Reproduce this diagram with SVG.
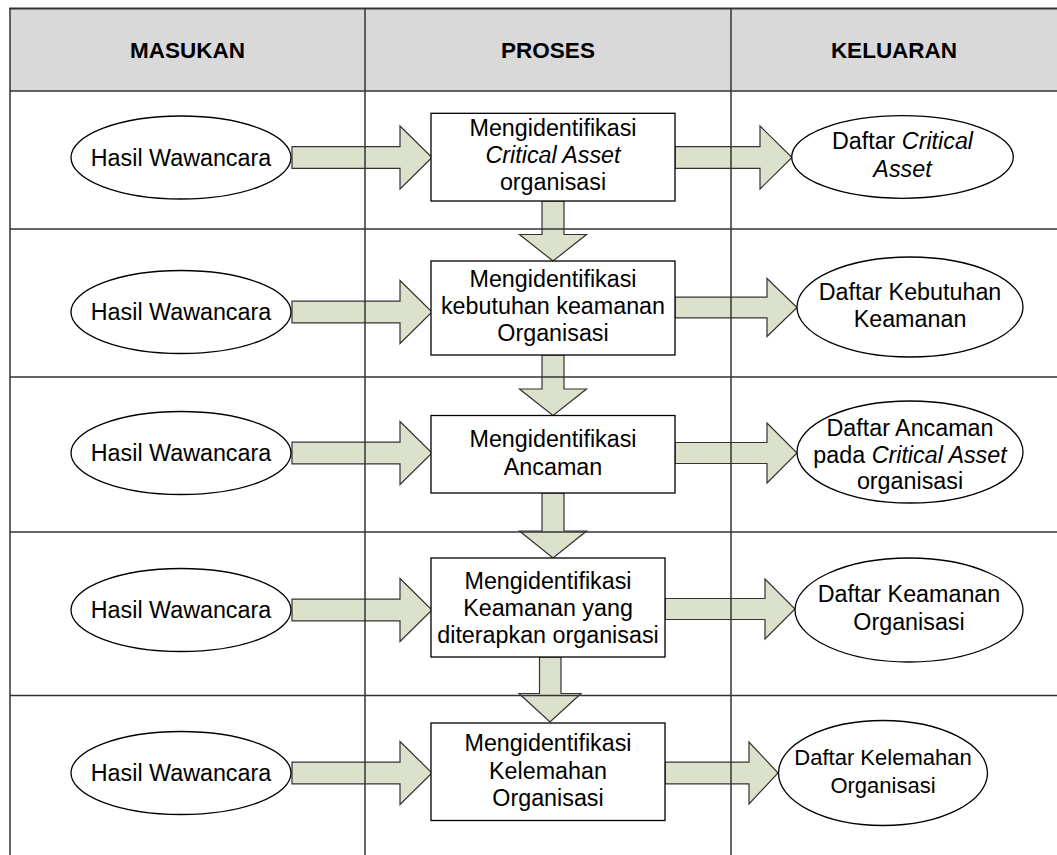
<svg xmlns="http://www.w3.org/2000/svg" width="1057" height="855" viewBox="0 0 1057 855">
  <defs>
    <style>
      .hdr { fill: #d9d9d9; }
      .grid { stroke: #333; stroke-width: 1.5; fill: none; }
      .arrow { fill: #dce1cb; stroke: #333; stroke-width: 1.2; stroke-linejoin: miter; }
      .box { fill: #fff; stroke: #000; stroke-width: 1.3; }
      .oval { fill: #fff; stroke: #000; stroke-width: 1.3; }
      text { font-family: "Liberation Sans", Arial, sans-serif; font-size: 23.3px; fill: #000; text-anchor: middle; }
      .th { font-weight: bold; font-size: 22.5px; }
      .it { font-style: italic; }
      .sm { font-size: 22px; }
    </style>
  </defs>
  <rect width="1057" height="855" fill="#fff"/>

  <!-- header band -->
  <rect class="hdr" x="10" y="8.5" width="1047" height="82.5"/>

  <!-- block arrows -->
  <g id="connectors">
    <!-- inputs to processes -->
    <path class="arrow" d="M292 146.7H400V126L432 157.5L400 189V168.3H292Z"/>
    <path class="arrow" d="M292 301.2H400V280.5L432 312L400 343.5V322.8H292Z"/>
    <path class="arrow" d="M292 442.2H400V421.5L432 453L400 484.5V463.8H292Z"/>
    <path class="arrow" d="M292 599.2H400V578.5L432 610L400 641.5V620.8H292Z"/>
    <path class="arrow" d="M292 762.2H400V741.5L432 773L400 804.5V783.8H292Z"/>
    <!-- processes to outputs -->
    <path class="arrow" d="M675 146.7H760V126L792 157.5L760 189V168.3H675Z"/>
    <path class="arrow" d="M675 297.2H767V278.5L797 307.5L767 336.5V317.8H675Z"/>
    <path class="arrow" d="M675 442.5H767V423L797 453L767 483V463.5H675Z"/>
    <path class="arrow" d="M665 598.5H765V579L795 609L765 639V619.5H665Z"/>
    <path class="arrow" d="M665 762.2H749V742L778 773L749 804V783.8H665Z"/>
    <!-- process chain -->
    <path class="arrow" d="M542 201H564V234.5H586.5L553 261L519.5 234.5H542Z"/>
    <path class="arrow" d="M542 355H564V389H586.5L553 415.5L519.5 389H542Z"/>
    <path class="arrow" d="M542 493H564V531H586.5L553 558L519.5 531H542Z"/>
    <path class="arrow" d="M539.5 657H561V693.5H581L550 722L519 693.5H539.5Z"/>
  </g>

  <!-- table rules -->
  <g id="table" class="grid">
    <line x1="9.2" y1="8.5" x2="1057" y2="8.5" stroke-width="2.2"/>
    <line x1="10" y1="8" x2="10" y2="855"/>
    <line x1="365" y1="8" x2="365" y2="855"/>
    <line x1="731" y1="8" x2="731" y2="855"/>
    <line x1="10" y1="91" x2="1057" y2="91"/>
    <line x1="10" y1="229" x2="1057" y2="229"/>
    <line x1="10" y1="377" x2="1057" y2="377"/>
    <line x1="10" y1="532" x2="1057" y2="532"/>
    <line x1="10" y1="695.5" x2="1057" y2="695.5"/>
  </g>

  <g id="col-headers">
    <text class="th" x="187.5" y="57.5">MASUKAN</text>
    <text class="th" x="548" y="57.5">PROSES</text>
    <text class="th" x="894" y="57.5">KELUARAN</text>
  </g>

  <!-- inputs -->
  <g id="in1"><ellipse class="oval" cx="181" cy="157.5" rx="110" ry="41.5"/><text x="181" y="165.5">Hasil Wawancara</text></g>
  <g id="in2"><ellipse class="oval" cx="181" cy="312" rx="110" ry="41.5"/><text x="181" y="320">Hasil Wawancara</text></g>
  <g id="in3"><ellipse class="oval" cx="181" cy="453" rx="110" ry="41.5"/><text x="181" y="461">Hasil Wawancara</text></g>
  <g id="in4"><ellipse class="oval" cx="181" cy="610" rx="110" ry="41.5"/><text x="181" y="618">Hasil Wawancara</text></g>
  <g id="in5"><ellipse class="oval" cx="181" cy="773" rx="110" ry="41.5"/><text x="181" y="781">Hasil Wawancara</text></g>

  <!-- processes -->
  <g id="proc1">
    <rect class="box" x="431" y="113.3" width="244" height="87.7"/>
    <text x="553" y="136">Mengidentifikasi</text>
    <text x="553" y="162.7" class="it">Critical Asset</text>
    <text x="553" y="189.5">organisasi</text>
  </g>
  <g id="proc2">
    <rect class="box" x="431" y="261" width="244" height="94"/>
    <text x="553" y="287">Mengidentifikasi</text>
    <text x="553" y="314">kebutuhan keamanan</text>
    <text x="553" y="341">Organisasi</text>
  </g>
  <g id="proc3">
    <rect class="box" x="431" y="415.5" width="244" height="77.5"/>
    <text x="553" y="446.7">Mengidentifikasi</text>
    <text x="553" y="474.5">Ancaman</text>
  </g>
  <g id="proc4">
    <rect class="box" x="431" y="558" width="234" height="99"/>
    <text x="548" y="589">Mengidentifikasi</text>
    <text x="548" y="616">Keamanan yang</text>
    <text x="548" y="643">diterapkan organisasi</text>
  </g>
  <g id="proc5">
    <rect class="box" x="431" y="723" width="234" height="97.5"/>
    <text x="548" y="751">Mengidentifikasi</text>
    <text x="548" y="778.5">Kelemahan</text>
    <text x="548" y="805.5">Organisasi</text>
  </g>

  <!-- outputs -->
  <g id="out1">
    <ellipse class="oval" cx="902.5" cy="157" rx="110.8" ry="41.3"/>
    <text x="902.5" y="149.3">Daftar <tspan class="it">Critical</tspan></text>
    <text x="902.5" y="177.3" class="it">Asset</text>
  </g>
  <g id="out2">
    <ellipse class="oval" cx="910" cy="307" rx="113" ry="50"/>
    <text x="910" y="299.5">Daftar Kebutuhan</text>
    <text x="910" y="327">Keamanan</text>
  </g>
  <g id="out3">
    <ellipse class="oval" cx="910" cy="452" rx="113" ry="51"/>
    <text x="910" y="436">Daftar Ancaman</text>
    <text x="910" y="462.5">pada <tspan class="it">Critical Asset</tspan></text>
    <text x="910" y="489">organisasi</text>
  </g>
  <g id="out4">
    <ellipse class="oval" cx="909" cy="610" rx="114" ry="52"/>
    <text x="909" y="602">Daftar Keamanan</text>
    <text x="909" y="629.5">Organisasi</text>
  </g>
  <g id="out5">
    <ellipse class="oval" cx="883" cy="773" rx="104.5" ry="52.5"/>
    <text class="sm" x="883" y="765">Daftar Kelemahan</text>
    <text class="sm" x="883" y="792.7">Organisasi</text>
  </g>
</svg>
